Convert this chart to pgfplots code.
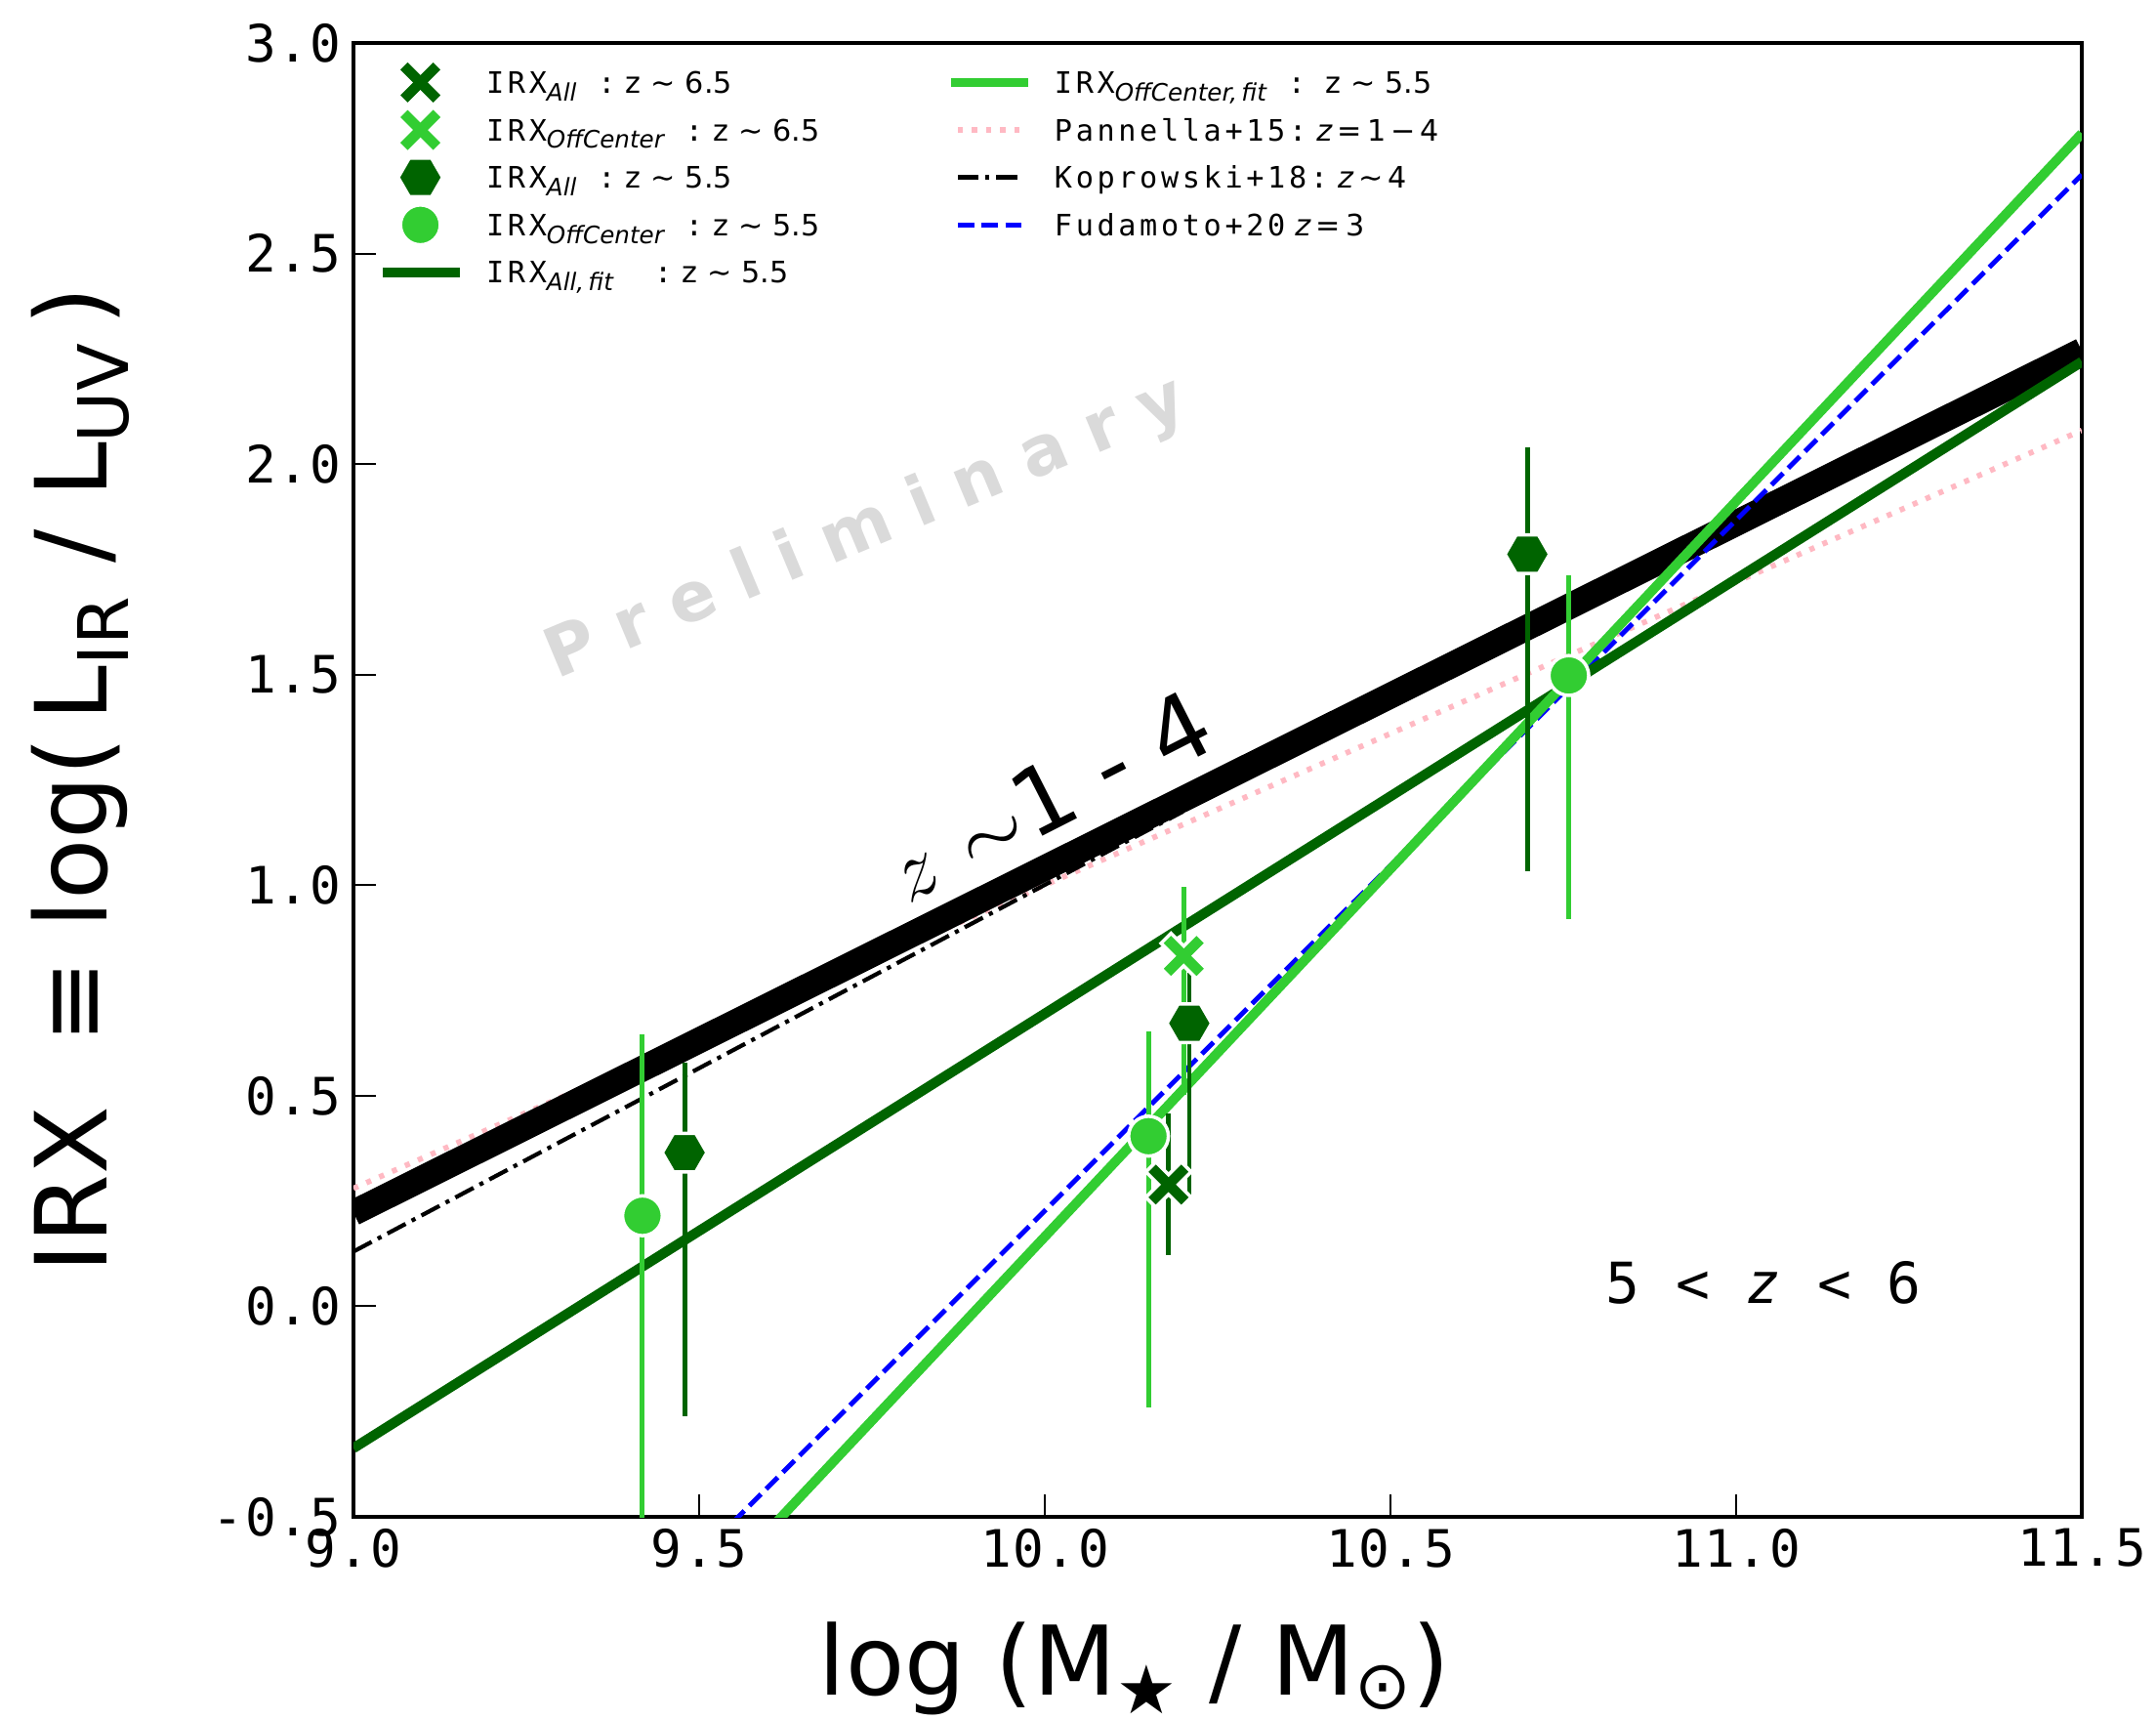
\documentclass[border=0pt]{standalone}
\usepackage{fontspec}
\setmainfont{DejaVu Sans}
\setsansfont{DejaVu Sans}
\setmonofont{DejaVu Sans Mono}
\newfontfamily\tickfont{DejaVu Sans Mono}[LetterSpace=3]
\newfontfamily\legmono{DejaVu Sans Mono}[LetterSpace=12]
\usepackage{pgfplots}
\pgfplotsset{compat=1.18}

\definecolor{dkgreen}{RGB}{0,100,0}
\definecolor{limegr}{RGB}{50,205,50}
\definecolor{pinkc}{RGB}{255,185,195}
\definecolor{wmgray}{RGB}{218,218,218}

% filled X marker (matplotlib 'X')
\pgfdeclareplotmark{Xfill}{%
  \pgftransformrotate{45}%
  \pgfpathmoveto{\pgfpoint{0.28\pgfplotmarksize}{0.28\pgfplotmarksize}}%
  \pgfpathlineto{\pgfpoint{0.28\pgfplotmarksize}{\pgfplotmarksize}}%
  \pgfpathlineto{\pgfpoint{-0.28\pgfplotmarksize}{\pgfplotmarksize}}%
  \pgfpathlineto{\pgfpoint{-0.28\pgfplotmarksize}{0.28\pgfplotmarksize}}%
  \pgfpathlineto{\pgfpoint{-\pgfplotmarksize}{0.28\pgfplotmarksize}}%
  \pgfpathlineto{\pgfpoint{-\pgfplotmarksize}{-0.28\pgfplotmarksize}}%
  \pgfpathlineto{\pgfpoint{-0.28\pgfplotmarksize}{-0.28\pgfplotmarksize}}%
  \pgfpathlineto{\pgfpoint{-0.28\pgfplotmarksize}{-\pgfplotmarksize}}%
  \pgfpathlineto{\pgfpoint{0.28\pgfplotmarksize}{-\pgfplotmarksize}}%
  \pgfpathlineto{\pgfpoint{0.28\pgfplotmarksize}{-0.28\pgfplotmarksize}}%
  \pgfpathlineto{\pgfpoint{\pgfplotmarksize}{-0.28\pgfplotmarksize}}%
  \pgfpathlineto{\pgfpoint{\pgfplotmarksize}{0.28\pgfplotmarksize}}%
  \pgfpathclose
  \pgfusepathqfillstroke
}
% hexagon marker
\pgfdeclareplotmark{hexa}{%
  \pgfpathmoveto{\pgfpoint{\pgfplotmarksize}{0pt}}%
  \pgfpathlineto{\pgfpoint{0.5\pgfplotmarksize}{0.866\pgfplotmarksize}}%
  \pgfpathlineto{\pgfpoint{-0.5\pgfplotmarksize}{0.866\pgfplotmarksize}}%
  \pgfpathlineto{\pgfpoint{-\pgfplotmarksize}{0pt}}%
  \pgfpathlineto{\pgfpoint{-0.5\pgfplotmarksize}{-0.866\pgfplotmarksize}}%
  \pgfpathlineto{\pgfpoint{0.5\pgfplotmarksize}{-0.866\pgfplotmarksize}}%
  \pgfpathclose
  \pgfusepathqfillstroke
}

\pgfplotsset{
  markimg/.style={legend image code/.code={\draw[##1] plot coordinates {(0.385cm,0cm)};}},
  longimg/.style={legend image code/.code={\draw[##1] (0cm,0cm) -- (0.79cm,0cm);}},
  shortimg/.style={legend image code/.code={\draw[##1] (0.07cm,0cm) -- (0.74cm,0cm);}},
}

\newcommand{\irx}[1]{{\legmono IRX}\textsubscript{\fontsize{7}{8}\selectfont\itshape #1}}

\begin{document}
\begin{tikzpicture}
\begin{axis}[
    scale only axis,
    width=17.7cm, height=15.09cm,
    xmin=9, xmax=11.5, ymin=-0.5, ymax=3,
    xtick={9,9.5,10,10.5,11,11.5},
    ytick={-0.5,0,0.5,1,1.5,2,2.5,3},
    xtick pos=bottom, ytick pos=left,
    tick align=inside,
    major tick length=0.23cm,
    axis line style={line width=1.4pt},
    every tick/.style={black, line width=0.6pt},
    tick label style={font=\tickfont\fontsize{15}{15}\selectfont},
    /pgf/number format/fixed,
    /pgf/number format/fixed zerofill,
    /pgf/number format/precision=1,
    /pgf/number format/assume math mode=true,
    xlabel={log (M\textsubscript{★} / M\textsubscript{⊙})},
    ylabel={IRX\ \ ≡ log(\,L\textsubscript{IR} / L\textsubscript{UV}\,)},
    xlabel style={font=\fontsize{28}{28}\selectfont, at={(axis description cs:0.452,-0.1206)}, anchor=base},
    ylabel style={font=\fontsize{29}{29}\selectfont, at={(axis description cs:-0.1424,0.5)}, anchor=base},
    legend columns=2,
    legend cell align=left,
    legend style={at={(axis description cs:0.0141,0.9893)}, anchor=north west,
        draw=none, fill=none, inner sep=0pt, outer sep=0pt,
        font=\fontsize{8.6}{10}\selectfont,
        nodes={inner sep=0pt, text height=0.353cm, text depth=0.133cm, text width=4.71cm, align=left},
        /tikz/every odd column/.append style={column sep=0.22cm},
        /tikz/every even column/.append style={column sep=0cm}},
]

% watermark
\node[rotate=22.7, text=wmgray, font=\fontsize{20}{20}\selectfont\bfseries] at (axis cs:9.742,1.844) {P r e l i m i n a r y};

% literature relations
\addplot[pinkc, line width=1.6pt, dash pattern=on 1.5pt off 2.6pt, forget plot] coordinates {(9,0.28) (11.5,2.08)};
\addplot[black, line width=1.2pt, dash pattern=on 6pt off 2pt on 1.2pt off 2pt, forget plot] coordinates {(9,0.13) (10.2,1.175)};
\addplot[black, line width=7.5pt, forget plot] coordinates {(9,0.222) (11.5,2.269)};
\addplot[blue, line width=1.4pt, dash pattern=on 4.8pt off 2.1pt, forget plot] coordinates {(9.5,-0.593) (11.5,2.687)};

% fits
\addplot[dkgreen, line width=2.9pt, forget plot] coordinates {(9,-0.337) (11.5,2.243)};
\addplot[limegr, line width=2.8pt, forget plot] coordinates {(9.5,-0.708) (11.5,2.785)};

% IRX_OffCenter z~5.5
\addplot[limegr, only marks, mark=*, mark size=5.8pt, mark options={fill=limegr, draw=white, line width=1pt}, forget plot,
    error bars/.cd, y dir=both, y explicit, error mark=none, error bar style={limegr, line width=1.4pt}]
    coordinates {
    (9.418,0.215) += (0,0.43) -= (0,1.0)
    (10.150,0.404) += (0,0.249) -= (0,0.644)
    (10.758,1.498) += (0,0.239) -= (0,0.578)
    };
% IRX_All z~5.5
\addplot[dkgreen, only marks, mark=hexa, mark size=6.5pt, mark options={fill=dkgreen, draw=white, line width=1pt}, forget plot,
    error bars/.cd, y dir=both, y explicit, error mark=none, error bar style={dkgreen, line width=1.4pt}]
    coordinates {
    (9.479,0.365) += (0,0.213) -= (0,0.625)
    (10.209,0.672) += (0,0.12) -= (0,0.41)
    (10.698,1.786) += (0,0.254) -= (0,0.753)
    };
% IRX_All z~6.5
\addplot[dkgreen, only marks, mark=Xfill, mark size=7.3pt, mark options={fill=dkgreen, draw=white, line width=1pt}, forget plot,
    error bars/.cd, y dir=both, y explicit, error mark=none, error bar style={dkgreen, line width=1.4pt}]
    coordinates {
    (10.179,0.289) += (0,0.17) -= (0,0.167)
    };
% IRX_OffCenter z~6.5
\addplot[limegr, only marks, mark=Xfill, mark size=7.3pt, mark options={fill=limegr, draw=white, line width=1pt}, forget plot,
    error bars/.cd, y dir=both, y explicit, error mark=none, error bar style={limegr, line width=1.4pt}]
    coordinates {
    (10.201,0.832) += (0,0.163) -= (0,0.33)
    };

\node[rotate=27, font=\fontsize{27}{27}\selectfont] at (axis cs:10.006,1.214) {$z$ $\sim$1 - 4};
\node[font=\tickfont\fontsize{16.5}{16.5}\selectfont] at (axis cs:11.04,0.055) {5 < \textit{z} < 6};

% legend
\addlegendimage{only marks, mark=Xfill, mark size=7.3pt, dkgreen, mark options={fill=dkgreen, draw=white, line width=1pt}, markimg}
\addlegendentry{\irx{All}{\legmono\ \ :\ }z ∼ 6.5}
\addlegendimage{limegr, line width=2.8pt, longimg}
\addlegendentry{\irx{OffCenter,\,fit}{\legmono\ \ :\ \ }z ∼ 5.5}
\addlegendimage{only marks, mark=Xfill, mark size=7.3pt, limegr, mark options={fill=limegr, draw=white, line width=1pt}, markimg}
\addlegendentry{\irx{OffCenter}{\legmono\ \ :\ }z ∼ 6.5}
\addlegendimage{pinkc, line width=1.6pt, dash pattern=on 1.5pt off 2.6pt, shortimg}
\addlegendentry{{\legmono Pannella+15:\ }\textit{z}\,=\,1\,−\,4}
\addlegendimage{only marks, mark=hexa, mark size=6.5pt, dkgreen, mark options={fill=dkgreen, draw=white, line width=1pt}, markimg}
\addlegendentry{\irx{All}{\legmono\ \ :\ }z ∼ 5.5}
\addlegendimage{black, line width=1.4pt, dash pattern=on 6pt off 2pt on 1.2pt off 2pt, shortimg}
\addlegendentry{{\legmono Koprowski+18:\ }\textit{z}\,∼\,4}
\addlegendimage{only marks, mark=*, mark size=5.8pt, limegr, mark options={fill=limegr, draw=white, line width=1pt}, markimg}
\addlegendentry{\irx{OffCenter}{\legmono\ \ :\ }z ∼ 5.5}
\addlegendimage{blue, line width=1.4pt, dash pattern=on 4.8pt off 2.1pt, shortimg}
\addlegendentry{{\legmono Fudamoto+20\ }\textit{z}\,=\,3}
\addlegendimage{dkgreen, line width=2.9pt, longimg}
\addlegendentry{\irx{All,\,fit}{\legmono\ \ \ \ :\ }z ∼ 5.5}
\addlegendimage{empty legend}
\addlegendentry{}
\end{axis}
\pgfresetboundingbox
\path[use as bounding box] ([xshift=-3.62cm,yshift=-2.07cm]current axis.south west) rectangle ([xshift=0.76cm,yshift=0.44cm]current axis.north east);
\end{tikzpicture}
\end{document}
